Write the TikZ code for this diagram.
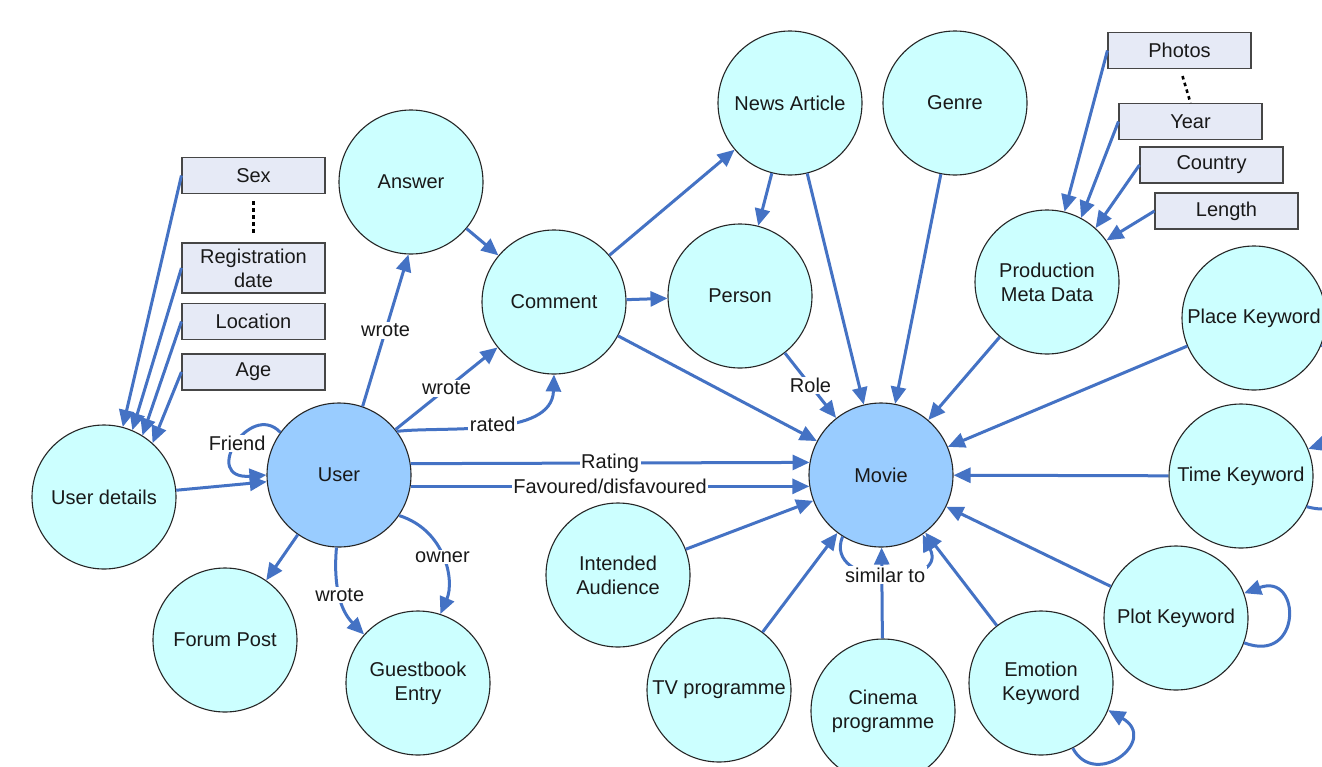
\documentclass[tikz,border=0pt]{standalone}
\usepackage{fontspec}
\setmainfont{Liberation Sans}
\usetikzlibrary{arrows.meta}
\definecolor{edgeblue}{RGB}{68,114,196}
\definecolor{cyanfill}{RGB}{204,255,255}
\definecolor{bluefill}{RGB}{153,204,255}
\definecolor{boxfill}{RGB}{230,234,246}
\definecolor{boxline}{RGB}{70,70,70}
\tikzset{
  ent/.style={circle, draw=black!85, line width=1.1pt, fill=cyanfill, minimum size=144pt, inner sep=0pt, align=center, text=black!90},
  mainent/.style={ent, fill=bluefill},
  attr/.style={rectangle, draw=boxline, line width=1.1pt, fill=boxfill, minimum width=143pt, minimum height=36pt, inner sep=0pt, align=center, text=black!90},
  edge/.style={draw=edgeblue, line width=3pt, -{Triangle[length=17pt,width=15pt]}},
  lbl/.style={fill=white, inner sep=1.5pt, text=black!90},
  dotline/.style={draw=black, line width=2.6pt, dash pattern=on 3.5pt off 3.5pt}
}
\begin{document}
\begin{tikzpicture}[x=1pt,y=-1pt, font=\fontsize{20}{24}\selectfont]
\useasboundingbox (0,0) rectangle (1322,766);
\clip (0,0) rectangle (1322,766);
\fill[white] (0,0) rectangle (1322,766);

% entities
\node[ent] (ud) at (104,497) {User details};
\node[mainent] (user) at (339,475) {User};
\node[ent] (forum) at (225,640) {Forum Post};
\node[ent] (guest) at (418,683) {Guestbook\\Entry};
\node[ent] (answer) at (411,182) {Answer};
\node[ent] (comment) at (554,302) {Comment};
\node[ent] (person) at (740,296) {Person};
\node[ent] (news) at (790,103) {News Article};
\node[ent] (genre) at (955,103) {Genre};
\node[ent] (pmd) at (1047,282) {Production\\Meta Data};
\node[ent] (place) at (1254,318) {Place Keyword};
\node[ent] (time) at (1241,476) {Time Keyword};
\node[mainent] (movie) at (881,475) {Movie};
\node[ent] (ia) at (618,575) {Intended\\Audience};
\node[ent] (tv) at (719,690) {TV programme};
\node[ent] (cinema) at (883,711) {Cinema\\programme};
\node[ent] (emotion) at (1041,683) {Emotion\\Keyword};
\node[ent] (plot) at (1176,618) {Plot Keyword};

% attribute boxes
\node[attr] (sex) at (253.5,175.5) {Sex};
\node[attr, minimum height=50pt] (reg) at (253.5,268) {Registration\\date};
\node[attr] (loc) at (253.5,321.5) {Location};
\node[attr] (age) at (253.5,372) {Age};
\node[attr] (photos) at (1179.5,50.5) {Photos};
\node[attr] (year) at (1190.5,121.5) {Year};
\node[attr] (country) at (1211.5,165) {Country};
\node[attr] (length) at (1226.5,211) {Length};

% dotted
\draw[dotline] ([yshift=-7pt]sex.south) -- ([yshift=7pt]reg.north);
\draw[dotline] ([xshift=3pt,yshift=-7pt]photos.south) -- (year.north);

% user detail attributes
\draw[edge] (sex.west) -- (ud.75);
\draw[edge] (reg.west) -- (ud.67);
\draw[edge] (loc.west) -- (ud.58);
\draw[edge] (age.west) -- (ud.48);

% production attributes
\draw[edge] (photos.west) -- (pmd.76);
\draw[edge] (year.west) -- (pmd.62);
\draw[edge] (country.west) -- (pmd.48);
\draw[edge] (length.west) -- (pmd.35);

% user edges
\draw[edge] (ud) -- (user);
\draw[edge] (user.144) .. controls (250,400) and (200,480) .. node[lbl]{Friend} (user.west);
\draw[edge] (user.71) -- node[lbl]{wrote} (answer.-92);
\draw[edge] (user) -- node[lbl]{wrote} (comment);
\draw[edge] (user.37) .. controls (445,426) and (552,438) .. node[lbl]{rated} (comment.south);
\draw[edge] (user.9.6) -- node[lbl]{Rating} (movie.170.4);
\draw[edge] (user.-9.6) -- node[lbl]{Favoured/disfavoured} (movie.189.6);
\draw[edge] (user) -- (forum);
\draw[edge] (user.268) .. controls (333.4,582.9) and (339,609.3) .. node[lbl]{wrote} (guest.138);
\draw[edge] (user.-34) .. controls (445,530) and (455,580) .. node[lbl]{owner} (guest.72);

% comment / news / person
\draw[edge] (answer) -- (comment);
\draw[edge] (comment) -- (news);
\draw[edge] (comment) -- (person);
\draw[edge] (comment) -- (movie);
\draw[edge] (news) -- (person);
\draw[edge] (news) -- (movie);
\draw[edge] (person) -- node[lbl]{Role} (movie);

% into movie
\draw[edge] (genre) -- (movie);
\draw[edge] (pmd) -- (movie);
\draw[edge] (place) -- (movie);
\draw[edge] (time) -- (movie);
\draw[edge] (plot) -- (movie);
\draw[edge] (emotion) -- (movie);
\draw[edge] (tv) -- (movie);
\draw[edge] (cinema) -- (movie);
\draw[edge] (ia) -- (movie);
\draw[edge] (movie.238) .. controls (822,588) and (950,588) .. node[lbl]{similar to} (movie.305);

% self loops
\draw[edge] (plot.-20) .. controls (1302,665) and (1302,572) .. (plot.20);
\draw[edge] (emotion.-64) .. controls (1095,790) and (1160,740) .. (emotion.-22);
\draw[edge] (time.-25) .. controls (1372,525) and (1372,428) .. (time.22);
\draw[edge] (place.-22) .. controls (1385,370) and (1385,265) .. (place.22);
\end{tikzpicture}
\end{document}
